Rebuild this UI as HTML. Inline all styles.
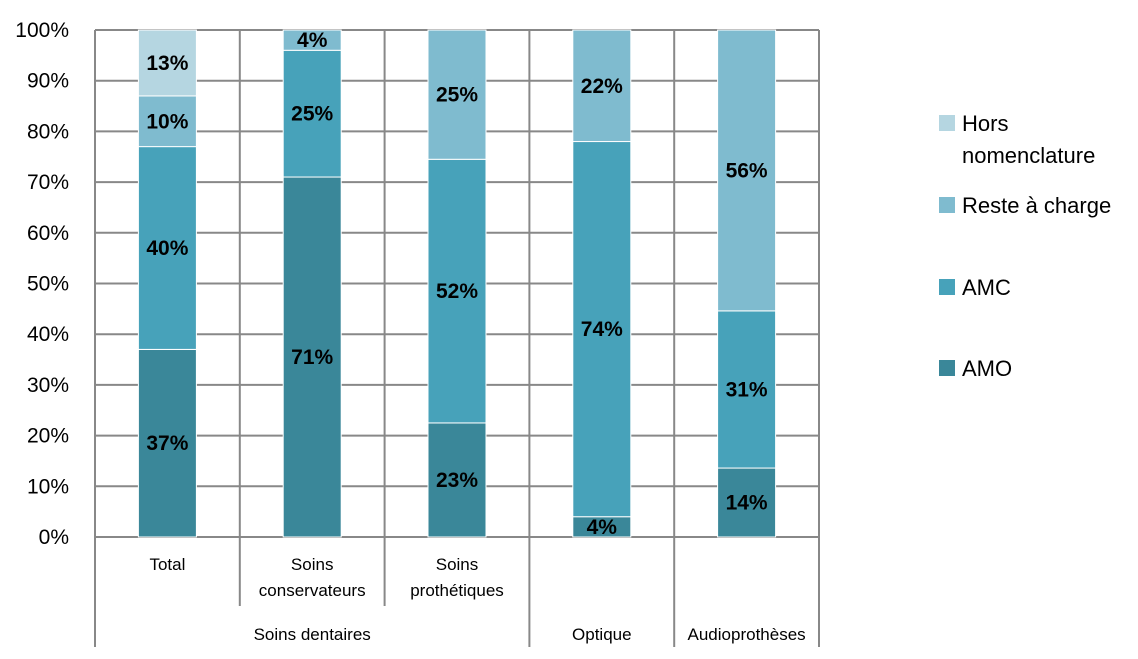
<!DOCTYPE html>
<html><head><meta charset="utf-8"><style>
html,body{margin:0;padding:0;background:#fff;width:1138px;height:659px;overflow:hidden}
svg{display:block;font-family:"Liberation Sans",sans-serif}
</style></head><body>
<svg id="chart" width="1138" height="659"></svg>
<script>
const categories=["Total","Soins conservateurs","Soins prothétiques","Optique","Audioprothèses"];
const amo=[37,71,22.5,4,13.6];
const amc=[40,25,52,74,31];
const reste=[10,4,25.5,22,55.4];
const hors=[13,0,0,0,0];
const amoLabels=["37%","71%","23%","4%","14%"];
const amcLabels=["40%","25%","52%","74%","31%"];
const resteLabels=["10%","4%","25%","22%","56%"];
const horsLabels=["13%","","","",""];
const yTicks=[0,10,20,30,40,50,60,70,80,90,100];
const seriesNames=["Hors nomenclature","Reste à charge","AMC","AMO"];
const colors={amo:"#3a8799",amc:"#47a2ba",reste:"#7fbbcf",hors:"#b5d6e1"};
const NS="http://www.w3.org/2000/svg";
const svg=document.getElementById("chart");
const X0=95,X1=819,Y0=537,Y1=30;
const bw=(X1-X0)/categories.length;
const y=v=>Y0-(Y0-Y1)*v/100;
const xc=i=>X0+bw*(i+0.5);
function mk(tag,attrs,parent){const e=document.createElementNS(NS,tag);for(const k in attrs)e.setAttribute(k,attrs[k]);(parent||svg).appendChild(e);return e;}
yTicks.forEach(t=>{
  const l=mk("line",{x1:X0,x2:X1,y1:y(t),y2:y(t),stroke:"#888","stroke-width":2});
  
  
  const tx=mk("text",{x:69,y:y(t)+7,"text-anchor":"end","font-size":21,fill:"#000"});
  tx.textContent=t+"%";
  
  
});
const vlines=[[X0,647],[X0+bw,606],[X0+2*bw,606],[X0+3*bw,647],[X0+4*bw,647],[X1,647]];
vlines.forEach(v=>{
  const l=mk("line",{x1:v[0],x2:v[0],y1:Y1,y2:v[1],stroke:"#888","stroke-width":2});
  
  
});
const series=[["amo",amo,amoLabels],["amc",amc,amcLabels],["reste",reste,resteLabels],["hors",hors,horsLabels]];
categories.forEach((c,i)=>{
  let acc=0;
  series.forEach(([k,arr,labs])=>{
    const v=arr[i];
    if(v<=0){return;}
    const top=y(acc+v),bot=y(acc);
    const r=mk("rect",{x:xc(i)-29,y:top,width:58,height:bot-top,fill:colors[k],stroke:"#fff","stroke-width":1});
    
    
    if(labs[i]){
      const t=mk("text",{x:xc(i),y:(top+bot)/2+7,"text-anchor":"middle","font-size":21,"font-weight":"bold",fill:"#000"});
      t.textContent=labs[i];
      
      
    }
    acc+=v;
  });
});
const catLines=[["Total"],["Soins","conservateurs"],["Soins","prothétiques"],[],[]];
catLines.forEach((ls,i)=>{
  ls.forEach((s,j)=>{
    const t=mk("text",{x:xc(i),y:570+j*26,"text-anchor":"middle","font-size":17,fill:"#000"});
    t.textContent=s;
    
    
  });
});
[["Soins dentaires",X0+1.5*bw],["Optique",xc(3)],["Audioprothèses",xc(4)]].forEach(g=>{
  const t=mk("text",{x:g[1],y:640,"text-anchor":"middle","font-size":17,fill:"#000"});
  t.textContent=g[0];
  
  
});
const leg=[["hors",115,["Hors","nomenclature"]],["reste",197,["Reste à charge"]],["amc",279,["AMC"]],["amo",360,["AMO"]]];
leg.forEach(([k,ty,lines])=>{
  const r=mk("rect",{x:939,y:ty,width:16,height:16,fill:colors[k]});
  
  
  lines.forEach((s,j)=>{
    const t=mk("text",{x:962,y:ty+16+j*32,"font-size":22,fill:"#000"});
    t.textContent=s;
    
    
  });
});
</script>
</body></html>
